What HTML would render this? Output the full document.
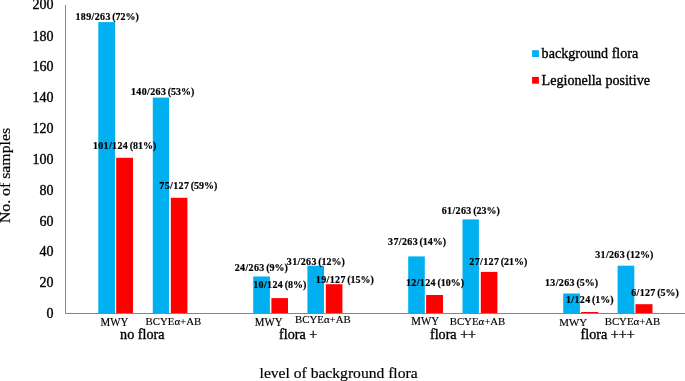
<!DOCTYPE html>
<html><head><meta charset="utf-8"><title>chart</title>
<style>
html,body{margin:0;padding:0;background:#fff;}
body{width:685px;height:381px;overflow:hidden;}
svg{display:block;font-family:"Liberation Serif","Times New Roman",serif;fill:#000;}
text{stroke:#000;stroke-width:0.35px;}
.t{font-size:14px;}
.d{font-size:10px;font-weight:bold;stroke-width:0.2px;}
.s{font-size:11px;stroke-width:0.15px;}
.a{font-size:15.6px;stroke-width:0.2px;}
</style></head><body>
<svg width="685" height="381" viewBox="0 0 685 381">
<rect width="685" height="381" fill="#fff"/>
<rect x="98.3" y="22.1" width="16.7" height="291.4" fill="#00b0f0"/>
<rect x="116.2" y="157.8" width="16.8" height="155.7" fill="#ff0000"/>
<rect x="152.8" y="97.6" width="16.2" height="215.9" fill="#00b0f0"/>
<rect x="170.8" y="197.8" width="16.6" height="115.7" fill="#ff0000"/>
<rect x="253.2" y="276.5" width="16.7" height="37.0" fill="#00b0f0"/>
<rect x="271.4" y="298.1" width="16.6" height="15.4" fill="#ff0000"/>
<rect x="307.4" y="265.7" width="16.6" height="47.8" fill="#00b0f0"/>
<rect x="325.8" y="284.2" width="16.6" height="29.3" fill="#ff0000"/>
<rect x="408.2" y="256.4" width="16.6" height="57.1" fill="#00b0f0"/>
<rect x="426.1" y="295.0" width="16.9" height="18.5" fill="#ff0000"/>
<rect x="462.5" y="219.4" width="16.4" height="94.1" fill="#00b0f0"/>
<rect x="480.8" y="271.9" width="16.6" height="41.6" fill="#ff0000"/>
<rect x="563.2" y="293.5" width="16.7" height="20.0" fill="#00b0f0"/>
<rect x="581.2" y="312.0" width="17.1" height="1.5" fill="#ff0000"/>
<rect x="617.6" y="265.7" width="16.7" height="47.8" fill="#00b0f0"/>
<rect x="635.5" y="304.2" width="17.0" height="9.3" fill="#ff0000"/>
<path d="M65.5 5V313.5H685" fill="none" stroke="#858585" stroke-width="1"/>
<text class="t" x="53.4" y="318.1" text-anchor="end">0</text>
<text class="t" x="53.4" y="287.3" text-anchor="end">20</text>
<text class="t" x="53.4" y="256.4" text-anchor="end">40</text>
<text class="t" x="53.4" y="225.6" text-anchor="end">60</text>
<text class="t" x="53.4" y="194.7" text-anchor="end">80</text>
<text class="t" x="53.4" y="163.9" text-anchor="end">100</text>
<text class="t" x="53.4" y="133.1" text-anchor="end">120</text>
<text class="t" x="53.4" y="102.2" text-anchor="end">140</text>
<text class="t" x="53.4" y="71.4" text-anchor="end">160</text>
<text class="t" x="53.4" y="40.5" text-anchor="end">180</text>
<text class="t" x="53.4" y="9.1" text-anchor="end">200</text>
<text class="d" transform="translate(107.2 19.7) scale(1.0 1.075)" text-anchor="middle"><tspan letter-spacing="0.36px">189/263</tspan><tspan dx="-1.0"> (72%)</tspan></text>
<text class="d" transform="translate(162.7 95.4) scale(1.0 1.075)" text-anchor="middle"><tspan letter-spacing="0.36px">140/263</tspan><tspan dx="-1.0"> (53%)</tspan></text>
<text class="d" transform="translate(124.6 148.6) scale(1.0 1.075)" text-anchor="middle"><tspan letter-spacing="0.36px">101/124</tspan><tspan dx="-1.0"> (81%)</tspan></text>
<text class="d" transform="translate(188.4 189.0) scale(1.0 1.075)" text-anchor="middle"><tspan letter-spacing="0.36px">75/127</tspan><tspan dx="-1.0"> (59%)</tspan></text>
<text class="d" transform="translate(261.3 270.7) scale(1.0 1.075)" text-anchor="middle"><tspan letter-spacing="0.36px">24/263</tspan><tspan dx="-1.0"> (9%)</tspan></text>
<text class="d" transform="translate(279.8 288.4) scale(1.0 1.075)" text-anchor="middle"><tspan letter-spacing="0.36px">10/124</tspan><tspan dx="-1.0"> (8%)</tspan></text>
<text class="d" transform="translate(315.9 264.7) scale(1.0 1.075)" text-anchor="middle"><tspan letter-spacing="0.36px">31/263</tspan><tspan dx="-1.0"> (12%)</tspan></text>
<text class="d" transform="translate(344.9 283.3) scale(1.0 1.075)" text-anchor="middle"><tspan letter-spacing="0.36px">19/127</tspan><tspan dx="-1.0"> (15%)</tspan></text>
<text class="d" transform="translate(470.8 213.7) scale(1.0 1.075)" text-anchor="middle"><tspan letter-spacing="0.36px">61/263</tspan><tspan dx="-1.0"> (23%)</tspan></text>
<text class="d" transform="translate(417.1 244.9) scale(1.0 1.075)" text-anchor="middle"><tspan letter-spacing="0.36px">37/263</tspan><tspan dx="-1.0"> (14%)</tspan></text>
<text class="d" transform="translate(498.4 264.6) scale(1.0 1.075)" text-anchor="middle"><tspan letter-spacing="0.36px">27/127</tspan><tspan dx="-1.0"> (21%)</tspan></text>
<text class="d" transform="translate(435.0 285.7) scale(1.0 1.075)" text-anchor="middle"><tspan letter-spacing="0.36px">12/124</tspan><tspan dx="-1.0"> (10%)</tspan></text>
<text class="d" transform="translate(624.2 258.1) scale(1.0 1.075)" text-anchor="middle"><tspan letter-spacing="0.36px">31/263</tspan><tspan dx="-1.0"> (12%)</tspan></text>
<text class="d" transform="translate(571.5 286.1) scale(1.0 1.075)" text-anchor="middle"><tspan letter-spacing="0.36px">13/263</tspan><tspan dx="-1.0"> (5%)</tspan></text>
<text class="d" transform="translate(589.8 302.5) scale(1.0 1.075)" text-anchor="middle"><tspan letter-spacing="0.36px">1/124</tspan><tspan dx="-1.0"> (1%)</tspan></text>
<text class="d" transform="translate(655.0 296.4) scale(1.0 1.075)" text-anchor="middle"><tspan letter-spacing="0.36px">6/127</tspan><tspan dx="-1.0"> (5%)</tspan></text>
<text class="s" transform="translate(114.5 326.0) scale(0.99 1.09)" text-anchor="middle">MWY</text>
<text class="s" transform="translate(173.4 325.1) scale(0.985 0.95)" text-anchor="middle">BCYEα+AB</text>
<text class="s" transform="translate(268.7 325.9) scale(0.99 1.09)" text-anchor="middle">MWY</text>
<text class="s" transform="translate(322.9 323.3) scale(0.985 0.95)" text-anchor="middle">BCYEα+AB</text>
<text class="s" transform="translate(425.1 325.3) scale(0.99 1.1)" text-anchor="middle">MWY</text>
<text class="s" transform="translate(477.5 324.6) scale(0.985 0.95)" text-anchor="middle">BCYEα+AB</text>
<text class="s" transform="translate(573.2 325.9) scale(0.99 0.98)" text-anchor="middle">MWY</text>
<text class="s" transform="translate(632.5 324.8) scale(0.985 0.95)" text-anchor="middle">BCYEα+AB</text>
<text class="t" transform="translate(142.3 338.6) scale(1.01 0.97)" text-anchor="middle">no flora</text>
<text class="t" transform="translate(298.1 338.9) scale(1.01 0.97)" text-anchor="middle">flora +</text>
<text class="t" transform="translate(453.0 338.7) scale(1.01 0.97)" text-anchor="middle">flora ++</text>
<text class="t" transform="translate(607.6 338.7) scale(1.01 0.97)" text-anchor="middle">flora +++</text>
<text class="a" x="338.6" y="377.5" text-anchor="middle">level of background flora</text>
<text class="a" style="font-size:15.8px" transform="translate(10.1 175.5) rotate(-90) scale(1 0.9)" text-anchor="middle">No. of samples</text>
<rect x="532.1" y="50.2" width="6.8" height="6.8" fill="#00b0f0"/>
<rect x="532.1" y="76.9" width="6.8" height="6.8" fill="#ff0000"/>
<text class="t" style="font-size:14.1px" transform="translate(541.6 57.9) scale(1 0.96)">background flora</text>
<text class="t" style="font-size:14.1px" transform="translate(541.6 84.9) scale(1 0.96)">Legionella positive</text>
</svg></body></html>
